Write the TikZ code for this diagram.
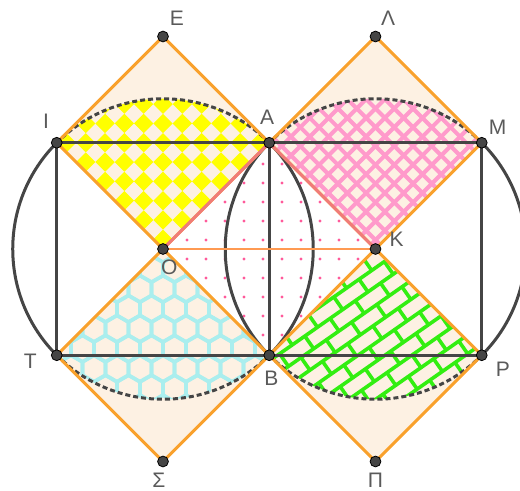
\documentclass[tikz,border=0pt]{standalone}
\usepackage{fontspec}
\setmainfont{Liberation Sans}
\usepackage{tikz}
\definecolor{geopeach}{HTML}{FDF1E3}
\definecolor{geoorange}{HTML}{F9A12C}
\definecolor{geosalmon}{HTML}{F07C78}
\definecolor{geoline}{HTML}{FF9A52}
\definecolor{geogrey}{HTML}{454545}
\definecolor{geotext}{HTML}{5A5A5A}
\definecolor{geoyellow}{HTML}{FFFF00}
\definecolor{geopink}{HTML}{FF9ACB}
\definecolor{geodots}{HTML}{FF5A9A}
\definecolor{geocyan}{HTML}{AAEEEE}
\definecolor{geogreen}{HTML}{33EE11}

\begin{document}
\begin{tikzpicture}[x=53.125pt, y=53.125pt,
  every node/.style={font=\fontsize{10.5}{12}\selectfont, text=geotext, inner sep=0pt},
  diaedge/.style={draw=geoorange, line width=1.5pt, line join=round},
  sq/.style={geogrey, line width=1.3pt},
  circ/.style={geogrey, line width=1.5pt},
  dsh/.style={circ, dash pattern=on 2.5pt off 1.5pt},
  hexl/.style={geocyan, line width=1.8pt},
  brick/.style={geogreen, line width=1.8pt},
  pt/.style={fill=geogrey, draw=black, line width=0.4pt}]
\def\R{1.41421}
\path[use as bounding box] (-1.5341,-2.2776) rectangle (3.36,2.3435);
\clip (-1.5341,-2.2776) rectangle (3.36,2.3435);
% points
\coordinate (O) at (0,0); \coordinate (K) at (2,0);
\coordinate (I) at (-1,1); \coordinate (A) at (1,1); \coordinate (M) at (3,1);
\coordinate (T) at (-1,-1); \coordinate (B) at (1,-1); \coordinate (P) at (3,-1);
\coordinate (E) at (0,2); \coordinate (L) at (2,2);
\coordinate (S) at (0,-2); \coordinate (Q) at (2,-2);
% squares on the diagonals
\foreach \a/\b/\c/\d in {O/I/E/A, K/A/L/M, O/T/S/B, K/B/Q/P}
  \fill[geopeach] (\a) -- (\b) -- (\c) -- (\d) -- cycle;
% dotted square
\begin{scope}
\clip (O) -- (A) -- (K) -- (B) -- cycle;
\foreach \i in {0,...,10} \foreach \j in {-5,...,6}
  \fill[geodots] (0.047+\i*0.1788, -0.094+\j*0.1788) circle[radius=0.8pt];
\end{scope}
% checkerboard sector
\begin{scope}
\clip (O) -- (A) arc[start angle=45, end angle=135, radius=\R] -- cycle;
\foreach \i in {0,...,10} \foreach \j in {0,...,10} {
  \pgfmathparse{int(mod(\i+\j,2))}
  \ifnum\pgfmathresult=0
    \fill[geoyellow, shift={(O)}, rotate=45] (\i*0.12856, \j*0.12856) rectangle ++(0.12856,0.12856);
  \fi
}
\end{scope}
% crosshatch sector
\begin{scope}
\clip (K) -- (M) arc[start angle=45, end angle=135, radius=\R] -- cycle;
\begin{scope}[shift={(K)}, rotate=45]
\foreach \k in {0,...,11} {
  \draw[geopink, line width=2pt] (0.06+\k*0.125, 0) -- ++(0,1.5);
  \draw[geopink, line width=2pt] (0, 0.06+\k*0.125) -- ++(1.5,0);
}
\end{scope}
\end{scope}
% hexagon sector
\begin{scope}
\clip (O) -- (T) arc[start angle=225, end angle=315, radius=\R] -- cycle;
\foreach \j in {0,...,8} \foreach \i in {-6,...,5} {
  \pgfmathsetmacro\hx{(\i+0.5*mod(\j,2))*0.2165}
  \pgfmathsetmacro\hy{-\j*0.1875}
  \draw[hexl, shift={(\hx,\hy)}] (90:0.125) -- (150:0.125) -- (210:0.125)
    -- (270:0.125) -- (330:0.125) -- (30:0.125) -- cycle;
}
\end{scope}
% brick sector
\begin{scope}
\clip (K) -- (B) arc[start angle=225, end angle=315, radius=\R] -- cycle;
\begin{scope}[shift={(K)}, rotate=35]
\foreach \k in {-11,...,4} {
  \draw[brick] (-2.2, \k*0.145) -- (2.2, \k*0.145);
  \foreach \m in {-9,...,9}
    \draw[brick] ({(\m+0.5*mod(\k,2))*0.29}, \k*0.145) -- ++(0,0.145);
}
\end{scope}
\end{scope}
% circles
\draw[circ] (I) arc[start angle=135, end angle=225, radius=\R];
\draw[circ] (B) arc[start angle=-45, end angle=45, radius=\R];
\draw[dsh] (A) arc[start angle=45, end angle=135, radius=\R];
\draw[dsh] (T) arc[start angle=225, end angle=315, radius=\R];
\draw[circ] (M) arc[start angle=45, end angle=-45, radius=\R];
\draw[circ] (A) arc[start angle=135, end angle=225, radius=\R];
\draw[dsh] (M) arc[start angle=45, end angle=135, radius=\R];
\draw[dsh] (B) arc[start angle=225, end angle=315, radius=\R];
% grey squares
\draw[sq] (I) -- (A); \draw[sq] (A) -- (M);
\draw[sq] (T) -- (B); \draw[sq] (B) -- (P);
\draw[sq] (I) -- (T); \draw[sq] (A) -- (B); \draw[sq] (M) -- (P);
\draw[geoline, line width=1.3pt] (O) -- (K);
\foreach \a/\b/\c/\d in {O/I/E/A, K/A/L/M, O/T/S/B, K/B/Q/P}
  \draw[diaedge] (\a) -- (\b) -- (\c) -- (\d) -- cycle;
\draw[geosalmon, line width=1.5pt, line join=round] (O) -- (A) -- (K);
\foreach \p in {E,L,I,A,M,O,K,T,B,P,S,Q}
  \filldraw[pt] (\p) circle[radius=2.7pt];
% labels
\node (lE) at ([shift={(0.13,0.17)}]E) {Ε};
\node (lL) at ([shift={(0.12,0.17)}]L) {Λ};
\node (lI) at ([shift={(-0.10,0.20)}]I) {Ι};
\node (lA) at ([shift={(-0.02,0.24)}]A) {Α};
\node (lM) at ([shift={(0.15,0.15)}]M) {Μ};
\node (lO) at ([shift={(0.06,-0.17)}]O) {Ο};
\node (lK) at ([shift={(0.20,0.09)}]K) {Κ};
\node (lT) at ([shift={(-0.25,-0.06)}]T) {Τ};
\node (lB) at ([shift={(0.02,-0.22)}]B) {Β};
\node (lP) at ([shift={(0.20,-0.13)}]P) {Ρ};
\node (lS) at ([shift={(-0.04,-0.18)}]S) {Σ};
\node (lQ) at ([shift={(0,-0.18)}]Q) {Π};
\end{tikzpicture}
\end{document}
